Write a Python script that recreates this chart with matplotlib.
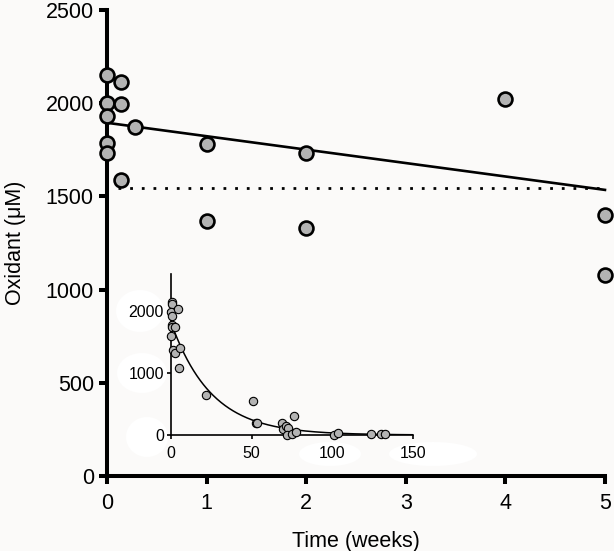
import matplotlib
matplotlib.use('Agg')
import matplotlib.pyplot as plt
from matplotlib.patches import Ellipse
import numpy as np

plt.rcParams['font.family'] = ['Liberation Sans', 'DejaVu Sans']

# main panel: oxidant vs time (weeks)
week = [0, 0, 0, 0, 0, 0.14, 0.14, 0.14, 0.28, 1, 1, 2, 2, 4, 5, 5]
oxidant = [2150, 2000, 1930, 1785, 1733, 2115, 1995, 1588, 1872,
           1780, 1368, 1733, 1330, 2023, 1400, 1078]
fit_intercept = 1895
fit_slope = -72
threshold = 1545

# inset: oxidant vs time (days)
day = [0.4, 0.4, 0.2, 0.4, 0.4, 0.6, 0.2, 4.5, 2.5, 1.4, 2.5, 5.6, 5.2,
       22, 51, 52.6, 53.4, 69, 69.5, 71.6, 72.5, 76, 72, 75.3, 77.4,
       101, 103.6, 124, 130, 132.5]
oxidant_d = [2150, 2109, 1979, 1917, 1781, 1745, 1599, 2031, 1745, 1370,
             1328, 1406, 1078, 641, 557, 198, 198, 198, 104, 146, 120,
             312, 0, 10, 47, 0, 26, 10, 10, 10]
decay_a = 1820
decay_k = 0.040

bg = '#fbfaf9'
fig = plt.figure(figsize=(6.14, 5.51), dpi=100, facecolor=bg)
ax = fig.add_axes([0.1743, 0.1361, 0.811, 0.8457], facecolor=bg)

xx = np.array([0, 5])
ax.plot(xx, fit_intercept + fit_slope * xx, color='black', lw=1.9, zorder=2, clip_on=False)
ax.plot([0.11, 5], [threshold, threshold], color='black', lw=2.0,
        linestyle=(0, (1, 3.2)), zorder=2, clip_on=False)
ax.scatter(week, oxidant, s=100, facecolor='#b3b3b3', edgecolor='black',
           linewidth=1.9, zorder=3, clip_on=False)

ax.set_xlim(0, 5)
ax.set_ylim(0, 2500)
ax.set_xticks(range(6))
ax.set_yticks([0, 500, 1000, 1500, 2000, 2500])
for s in ['top', 'right']:
    ax.spines[s].set_visible(False)
for s in ['left', 'bottom']:
    ax.spines[s].set_linewidth(2.9)
ax.tick_params(width=2.9, length=5.5, labelsize=15.5)
ax.tick_params(axis='x', pad=7)
ax.tick_params(axis='y', pad=4)
ax.set_xlabel('Time (weeks)', fontsize=15.5, labelpad=12)
ax.set_ylabel('Oxidant (\u03bcM)', fontsize=15.5, labelpad=14)

# faint white blobs behind inset labels
for (cx, cy, w, h) in [(140, 311, 48, 42), (142, 373, 50, 40), (147, 437, 42, 40),
                       (330, 454, 62, 24), (433, 454, 88, 24)]:
    fig.patches.append(Ellipse((cx / 614, 1 - cy / 551), w / 614, h / 551,
                               transform=fig.transFigure, facecolor='white',
                               edgecolor='none', zorder=1))

ins = fig.add_axes([0.2785, 0.2105, 0.394, 0.2922], facecolor='none')
ins.set_zorder(5)
dd = np.linspace(0, 150, 300)
ins.plot(dd, decay_a * np.exp(-decay_k * dd), color='black', lw=1.1, zorder=2)
ins.scatter(day, oxidant_d, s=36, facecolor='#b3b3b3', edgecolor='black',
            linewidth=0.8, zorder=3, clip_on=False)
ins.set_xlim(0, 150)
ins.set_ylim(0, 2600)
ins.set_xticks([0, 50, 100, 150])
ins.set_yticks([0, 1000, 2000])
for s in ['top', 'right']:
    ins.spines[s].set_visible(False)
for s in ['left', 'bottom']:
    ins.spines[s].set_linewidth(1.2)
ins.tick_params(width=1.2, length=3, labelsize=11.5, pad=2)
ins.tick_params(axis='x', pad=5)

fig.savefig('out.png', dpi=100, facecolor=bg)
